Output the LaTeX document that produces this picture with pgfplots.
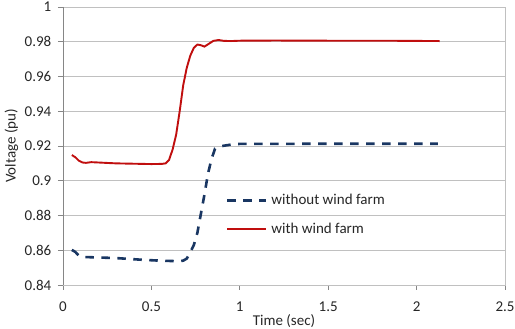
\documentclass[border=0pt]{standalone}
\usepackage{fontspec}
\setmainfont{Carlito}
\usepackage{pgfplots}
\pgfplotsset{compat=1.18}

\definecolor{withwf}{RGB}{192,14,14}
\definecolor{withoutwf}{RGB}{25,54,98}
\definecolor{gridgray}{RGB}{192,192,192}
\definecolor{axisgray}{RGB}{134,134,134}

\begin{document}
\fontsize{15pt}{18pt}\selectfont
\begin{tikzpicture}
\path[use as bounding box] (-63pt,-44pt) rectangle (452pt,285pt);
\begin{axis}[
  at={(0,0)}, anchor=south west,
  scale only axis, width=442pt, height=278pt,
  xmin=0, xmax=2.5, ymin=0.84, ymax=1,
  xtick={0,0.5,1,1.5,2,2.5},
  ytick={0.84,0.86,0.88,0.9,0.92,0.94,0.96,0.98,1},
  xtick pos=bottom, ytick pos=left,
  tick align=outside, major tick length=5pt,
  tick style={axisgray, line width=0.8pt},
  axis line style={gridgray, line width=0.8pt},
  ymajorgrids, major grid style={gridgray, line width=0.8pt},
  /pgf/number format/assume math mode=true,
  ticklabel style={font=\fontsize{15pt}{18pt}\selectfont, text=black!85},
  xticklabel style={yshift=-7pt},
  yticklabel style={xshift=-1.5pt},
  label style={font=\fontsize{15pt}{18pt}\selectfont, text=black!85},
  xlabel={Time (sec)}, ylabel={Voltage (pu)},
  xlabel style={at={(axis description cs:0.5,-0.1295)}, anchor=center},
  ylabel style={at={(axis description cs:-0.1165,0.5)}, anchor=center},
  legend style={draw=none, fill=none, at={(axis description cs:0.3613,0.3364)},
    anchor=north west, row sep=14.5pt,
    nodes={inner sep=0pt, text height=11pt, text depth=3pt, text=black!85,
      font=\fontsize{15pt}{18pt}\selectfont},
    /tikz/every odd column/.append style={column sep=4pt}},
  legend cell align=left,
  legend image code/.code={\draw[#1] (0pt,0pt) -- (39pt,0pt);},
]
% bus voltage without the wind farm connected
\addplot[withoutwf, line width=2.6pt, dash pattern=on 8.5pt off 7.5pt] coordinates {
  (0.05,0.8602) (0.07,0.8590) (0.09,0.8568) (0.11,0.8560) (0.15,0.8560)
  (0.30,0.8555) (0.45,0.8545) (0.55,0.8540) (0.65,0.8537) (0.68,0.8540)
  (0.70,0.8552) (0.72,0.8588) (0.74,0.8630) (0.76,0.8700) (0.78,0.8810)
  (0.80,0.8920) (0.82,0.9040) (0.84,0.9125) (0.86,0.9185) (0.88,0.9195)
  (0.90,0.9200) (0.95,0.9208) (1.00,0.9212) (1.50,0.9213) (2.12,0.9213)
};
\addlegendentry{without wind farm}
% bus voltage with the wind farm connected
\addplot[withwf, line width=1.9pt] coordinates {
  (0.05,0.9148) (0.07,0.9135) (0.09,0.9115) (0.11,0.9105) (0.13,0.9103)
  (0.16,0.9107) (0.20,0.9105) (0.30,0.9100) (0.40,0.9098) (0.50,0.9096)
  (0.56,0.9097) (0.58,0.9100) (0.60,0.9120) (0.62,0.9180) (0.64,0.9265)
  (0.66,0.9400) (0.68,0.9550) (0.70,0.9650) (0.72,0.9720) (0.74,0.9765)
  (0.76,0.9784) (0.78,0.9780) (0.80,0.9772) (0.82,0.9785) (0.85,0.9805)
  (0.88,0.9810) (0.91,0.9805) (0.95,0.9804) (1.00,0.9806) (1.20,0.9807)
  (1.50,0.9806) (1.80,0.9806) (2.13,0.9804)
};
\addlegendentry{with wind farm}
% value axis and category axis lines
\draw[axisgray, line width=0.8pt] (rel axis cs:0,1) -- (rel axis cs:0,0) -- (rel axis cs:1,0);
\end{axis}
\end{tikzpicture}
\end{document}
